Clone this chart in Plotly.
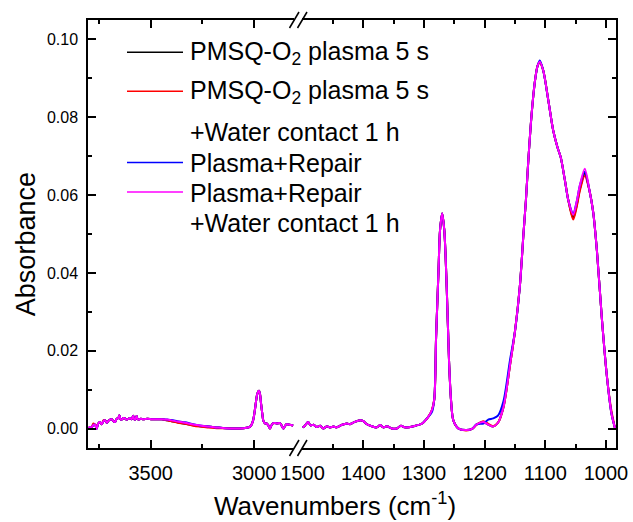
import plotly.graph_objects as go

# ---------------- data ----------------
LEFT_WN = [3801, 3793, 3785, 3777, 3769, 3761, 3753, 3745, 3736, 3728, 3720, 3712, 3704, 3696,
           3688, 3680, 3672, 3664, 3656, 3651, 3646, 3640, 3632, 3624, 3616, 3608, 3600, 3592,
           3584, 3580, 3576, 3572, 3568, 3564, 3560, 3548, 3536, 3515, 3495, 3470, 3447, 3420,
           3399, 3370, 3334, 3300, 3262, 3220, 3181, 3140, 3101, 3070, 3037, 3020, 3013, 3005,
           2997, 2990, 2985, 2977, 2972, 2967, 2961, 2956, 2948, 2940, 2932, 2924, 2918, 2911,
           2900, 2890, 2876, 2868, 2860, 2852, 2844, 2830, 2812]
LEFT_ABS = [0.0000, 0.0004, 0.0003, 0.0009, 0.0010, -0.0001, 0.0013, 0.0017, 0.0011, 0.0019,
            0.0021, 0.0015, 0.0020, 0.0023, 0.0024, 0.0019, 0.0017, 0.0025, 0.0027, 0.0034,
            0.0024, 0.0023, 0.0027, 0.0026, 0.0023, 0.0025, 0.0027, 0.0024, 0.0033, 0.0024,
            0.0023, 0.0026, 0.0032, 0.0025, 0.0023, 0.0025, 0.0024, 0.0025, 0.0024, 0.0024,
            0.0024, 0.0023, 0.0021, 0.0018, 0.0015, 0.0011, 0.0008, 0.0005, 0.0003, 0.0001,
            0.0000, 0.0000, 0.0002, 0.0005, 0.0010, 0.0022, 0.0047, 0.0075, 0.0090, 0.0097,
            0.0088, 0.0064, 0.0038, 0.0020, 0.0013, 0.0013, 0.0008, 0.0000, 0.0007, 0.0013,
            0.0014, 0.0013, 0.0014, 0.0008, 0.0000, 0.0006, 0.0011, 0.0010, 0.0008]

RIGHT_WN = [1500, 1497, 1491, 1487, 1482, 1477, 1471, 1466, 1460, 1455, 1449, 1444, 1436, 1427,
            1422, 1414, 1405, 1400, 1394, 1386, 1378, 1372, 1367, 1361, 1353, 1345, 1338, 1331,
            1317, 1303, 1293, 1287, 1283, 1280, 1276, 1273.5, 1270, 1266.5, 1262.5, 1258.7,
            1255.4, 1251.6, 1243, 1230, 1220, 1213, 1202, 1194, 1186, 1178, 1169, 1158, 1150,
            1142, 1136, 1132, 1128, 1122.5, 1117, 1112.6, 1109, 1103.4, 1095, 1087, 1080,
            1074.6, 1067.6, 1062, 1054, 1048, 1043, 1035, 1027, 1021, 1015, 1007, 999, 991, 985]
RIGHT_ABS = [0.0003, 0.0006, 0.0017, 0.0008, 0.0010, 0.0004, 0.0007, 0.0000, 0.0006, 0.0003,
             0.0005, 0.0003, 0.0009, 0.0013, 0.0011, 0.0017, 0.0021, 0.0019, 0.0011, 0.0006,
             0.0003, 0.0009, 0.0003, 0.0006, 0.0000, 0.0000, 0.0007, 0.0003, 0.0006, 0.0013,
             0.0030, 0.0047, 0.0075, 0.0235, 0.0406, 0.0510, 0.0553, 0.0510, 0.0364, 0.0175,
             0.0073, 0.0021, 0.0000, -0.0004, 0.0000, 0.0011, 0.0017, 0.0010, 0.0005, 0.0015,
             0.0055, 0.0165, 0.0250, 0.0365, 0.0500, 0.0586, 0.0689, 0.0809, 0.0894, 0.0933,
             0.0943, 0.0920, 0.0843, 0.0766, 0.0723, 0.0697, 0.0637, 0.0586, 0.0550, 0.0585,
             0.0625, 0.0668, 0.0610, 0.0555, 0.0458, 0.0287, 0.0142, 0.0039, 0.0000]

# per-series readings where the curves visibly differ from the magenta one
BLACK_DIFF = {3420: 0.0021, 3399: 0.0019, 3370: 0.0016, 3334: 0.0012, 3300: 0.0009,
              3262: 0.0006, 1109: 0.0942, 1054: 0.0541, 1048: 0.0576, 1043: 0.0616, 1035: 0.0656}
RED_DIFF = {3777: 0.0013, 3761: 0.0006, 3728: 0.0021, 3420: 0.0021, 3399: 0.0019,
            3370: 0.0015, 3334: 0.0012, 3300: 0.0008, 3262: 0.0005, 3220: 0.0003, 3181: 0.0001,
            1230: -0.0005, 1213: 0.0010, 1202: 0.0019, 1194: 0.0012, 1186: 0.0006,
            1109: 0.0940, 1054: 0.0537, 1048: 0.0572, 1043: 0.0612, 1035: 0.0650, 991: 0.0045}
BLUE_DIFF = {3399: 0.0022, 3370: 0.0019, 3334: 0.0016, 3300: 0.0012, 1287: 0.0042,
             1202: 0.0013, 1194: 0.0023, 1186: 0.0026, 1178: 0.0033, 1169: 0.0070,
             1158: 0.0178, 1109: 0.0946, 1054: 0.0553, 1035: 0.0660}
MAGENTA_DIFF = {}

SERIES_LABELS = ["PMSQ-O<sub>2</sub> plasma 5 s",
                 "PMSQ-O<sub>2</sub> plasma 5 s +Water contact 1 h",
                 "Plasma+Repair",
                 "Plasma+Repair +Water contact 1 h"]
SERIES_COLORS = ["#000000", "#FF0000", "#0000FF", "#FF00FF"]
SERIES_DIFFS = [BLACK_DIFF, RED_DIFF, BLUE_DIFF, MAGENTA_DIFF]

LEGEND_ROWS = ["PMSQ-O<sub>2</sub> plasma 5 s", "PMSQ-O<sub>2</sub> plasma 5 s",
               "+Water contact 1 h", "Plasma+Repair", "Plasma+Repair", "+Water contact 1 h"]
LEGEND_ROW_COLOR = ["#000000", "#FF0000", None, "#0000FF", "#FF00FF", None]

Y_TICKS = [0.00, 0.02, 0.04, 0.06, 0.08, 0.10]

# ---------------- layout geometry ----------------
W, H = 633, 522
L, R, T, B = 88, 616, 20, 447.7
PW, PH = R - L, B - T
FONT = "Liberation Sans, Arial, sans-serif"


def px(x):
    return (x - L) / PW


def py(y):
    return (B - y) / PH


def build(wn, base, diff):
    return [diff.get(w, v) for w, v in zip(wn, base)]


fig = go.Figure()
for label, color, diff in zip(SERIES_LABELS, SERIES_COLORS, SERIES_DIFFS):
    for seg, (wn, base) in enumerate([(LEFT_WN, LEFT_ABS), (RIGHT_WN, RIGHT_ABS)]):
        fig.add_trace(go.Scatter(
            x=wn, y=build(wn, base, diff), mode="lines", name=label,
            line=dict(color=color, width=2, shape="spline", smoothing=0.8),
            xaxis="x" if seg == 0 else "x2", yaxis="y" if seg == 0 else "y2",
            showlegend=False, hoverinfo="skip"))

LINE = dict(showline=True, linecolor="black", linewidth=1.5,
            ticks="inside", ticklen=8, tickwidth=1.5, tickcolor="black",
            showgrid=False, zeroline=False, automargin=False)
XFONT = dict(family=FONT, size=20, color="black")
YFONT = dict(family=FONT, size=16, color="black")
Y_MINOR = dict(dtick=0.01, ticklen=4, tickwidth=1.5, tickcolor="black", ticks="inside")

fig.update_layout(
    width=W, height=H, margin=dict(l=L, r=W - R, t=T, b=H - B, autoexpand=False),
    paper_bgcolor="white", plot_bgcolor="white", showlegend=False,
    xaxis=dict(domain=[0, px(294)], range=[3802.6, 2808], tickvals=[3500, 3000],
               minor=dict(tickvals=[3750, 3250], ticklen=4, tickwidth=1.5,
                          tickcolor="black", ticks="inside"),
               anchor="y", mirror="ticks", ticklabelstandoff=6, tickfont=XFONT, **LINE),
    xaxis2=dict(domain=[px(302), 1], range=[1501, 983.5], dtick=100, tick0=1000,
                minor=dict(dtick=50, ticklen=4, tickwidth=1.5, tickcolor="black",
                           ticks="inside"),
                anchor="y2", mirror="ticks", ticklabelstandoff=6, tickfont=XFONT, **LINE),
    yaxis=dict(domain=[0, 1], range=[-0.005, 0.105], tickvals=Y_TICKS,
               ticktext=[f"{v:.2f}" for v in Y_TICKS], minor=Y_MINOR,
               anchor="x", side="left", mirror=False, ticklabelstandoff=5,
               tickfont=YFONT, **LINE),
    yaxis2=dict(domain=[0, 1], range=[-0.005, 0.105], tickvals=Y_TICKS, minor=Y_MINOR,
                anchor="x2", side="right", mirror=False, showticklabels=False, **LINE),
)

shapes = []
annotations = []
# axis-break marks
for yb in (T, B):
    for x0 in (289.5, 297.5):
        shapes.append(dict(type="line", xref="paper", yref="paper",
                           x0=px(x0), y0=py(yb + 8), x1=px(x0 + 9.5), y1=py(yb - 8),
                           line=dict(color="black", width=1.5)))

# legend
ROW_Y = [52.8, 91.7, 131.7, 163.0, 192.5, 222.5]
for text, color, yy in zip(LEGEND_ROWS, LEGEND_ROW_COLOR, ROW_Y):
    if color:
        shapes.append(dict(type="line", xref="paper", yref="paper",
                           x0=px(127), x1=px(183), y0=py(yy - 0.5), y1=py(yy - 0.5),
                           line=dict(color=color, width=1.5)))
    annotations.append(dict(text=text, xref="paper", yref="paper", x=px(188), y=py(yy),
                            xanchor="left", yanchor="middle", showarrow=False,
                            font=dict(family=FONT, size=25, color="black")))

# axis titles
annotations.append(dict(text="Wavenumbers (cm<sup>-1</sup>)", xref="paper", yref="paper",
                        x=px(335), y=py(504), xanchor="center", yanchor="middle",
                        showarrow=False, font=dict(family=FONT, size=26, color="black")))
annotations.append(dict(text="Absorbance", xref="paper", yref="paper", x=px(26), y=py(244),
                        xanchor="center", yanchor="middle", textangle=-90,
                        showarrow=False, font=dict(family=FONT, size=27, color="black")))

fig.update_layout(shapes=shapes, annotations=annotations)
fig.write_html("out.html")
